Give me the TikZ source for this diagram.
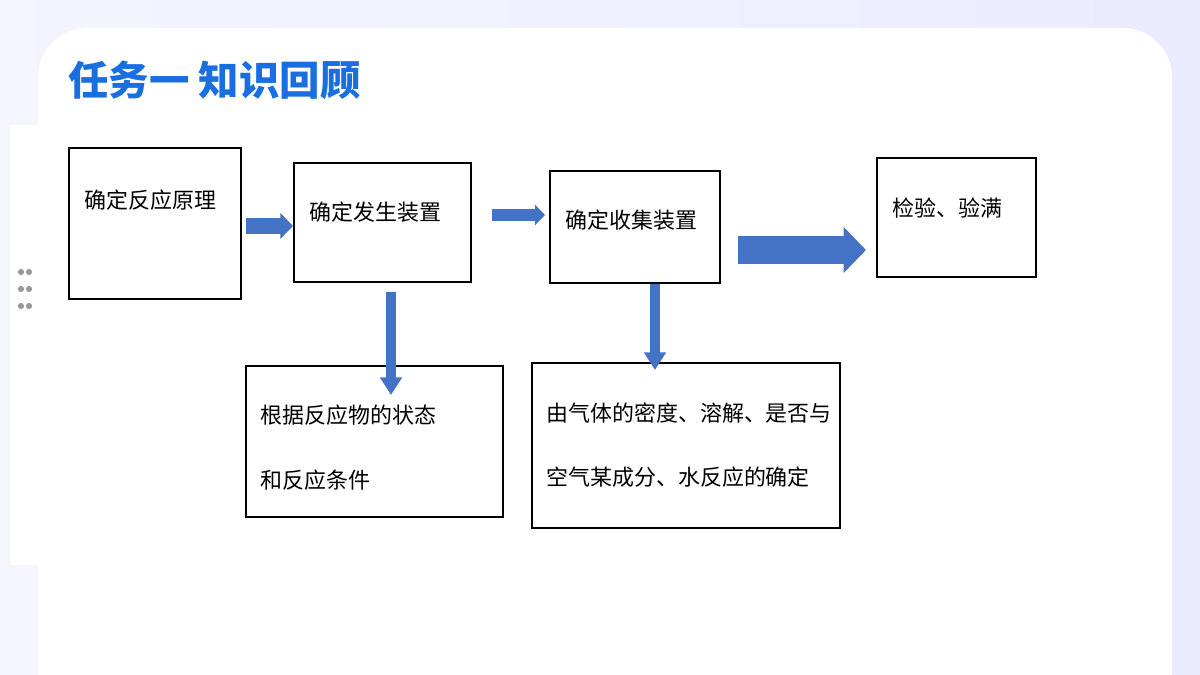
\documentclass[tikz,border=0pt]{standalone}
\usepackage{fontspec}
\setmainfont{Liberation Serif}
\newfontfamily\cjk{Noto Sans CJK SC}
\usetikzlibrary{arrows.meta,positioning,calc}
\definecolor{flowblue}{HTML}{4472C4}
\definecolor{titleblue}{HTML}{1A6FE0}
\begin{document}
\begin{tikzpicture}[x=0.02cm,y=-0.02cm,
  box/.style={draw,line width=1.2pt,inner sep=0pt,anchor=north west},
  boxtext/.style={font=\cjk\fontsize{12.5}{15}\selectfont,anchor=west,inner sep=0pt},
  flow/.style={draw=flowblue,line width=#1,-{Triangle[width=1.6*#1,length=0.8*#1]}},
  downflow/.style={draw=flowblue,line width=6pt,-{Triangle[width=12pt,length=10pt]}},
  dot/.style={circle,fill=gray!80,inner sep=0pt,minimum size=3.5pt}]
  % background
  \useasboundingbox (0,0) rectangle (1200,675);
  \shade[left color=blue!4,right color=blue!8] (0,0) rectangle (1200,675);
  \fill[white,rounded corners=28] (38,28) rectangle (1172,720);
  \node[anchor=west,font=\cjk\bfseries\fontsize{23}{26}\selectfont,text=titleblue,inner sep=0pt] (title) at (68,80) {任务一 知识回顾};
  \fill[white] (10,125) rectangle (1075,565);
  % handle dots
  \foreach \r in {272,289,306}{
    \node[dot] at (21,\r) {};
    \node[dot] at (29,\r) {};
  }
  % boxes
  \node[box,minimum width=172*0.02cm,minimum height=151*0.02cm] (principle) at (68,147) {};
  \node[box,minimum width=177*0.02cm,minimum height=119*0.02cm] (generator) at (293,162) {};
  \node[box,minimum width=170*0.02cm,minimum height=112*0.02cm] (collector) at (549,170) {};
  \node[box,minimum width=159*0.02cm,minimum height=119*0.02cm] (check) at (876,157) {};
  \node[box,minimum width=257*0.02cm,minimum height=151*0.02cm] (state) at (245,365) {};
  \node[box,minimum width=308*0.02cm,minimum height=165*0.02cm] (density) at (531,362) {};
  % texts
  \node[boxtext] at (84,200) {确定反应原理};
  \node[boxtext] at (309,212) {确定发生装置};
  \node[boxtext] at (565,220) {确定收集装置};
  \node[boxtext] at (892,208) {检验、验满};
  \node[boxtext] at (260,415) {根据反应物的状态};
  \node[boxtext] at (260,480) {和反应条件};
  \node[boxtext] at (546,413) {由气体的密度、溶解、是否与};
  \node[boxtext] at (546,477) {空气某成分、水反应的确定};
  % connectors
  \draw[flow=9pt] ($(principle.east |- 0,226)+(4,0)$) -- (generator.west |- 0,226);
  \draw[flow=7pt] ($(generator.east |- 0,215)+(20,0)$) -- ($(collector.west |- 0,215)+(-4,0)$);
  \draw[flow=16pt] ($(collector.east |- 0,250)+(17,0)$) -- ($(check.west |- 0,250)+(-10,0)$);
  \draw[downflow] ($(391,0 |- generator.south)+(0,9)$) -- ($(391,0 |- state.north)+(0,30)$);
  \draw[downflow] (655,0 |- collector.south) -- ($(655,0 |- density.north)+(0,8)$);
\end{tikzpicture}
\end{document}
